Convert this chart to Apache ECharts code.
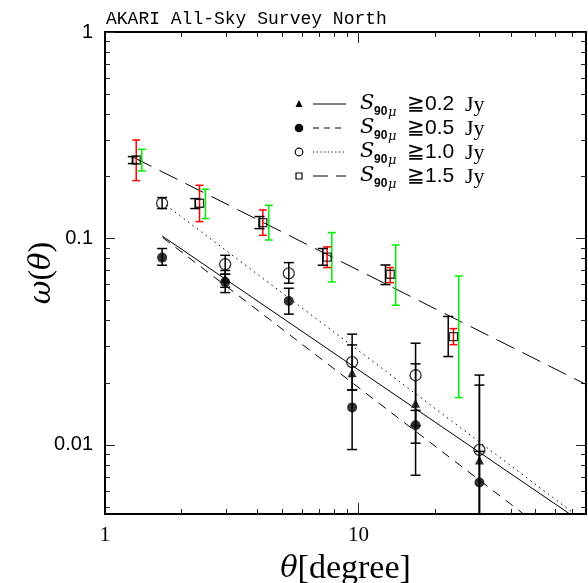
<!DOCTYPE html>
<html><head><meta charset="utf-8">
<script src="https://cdn.jsdelivr.net/npm/echarts@6/dist/echarts.min.js"></script>
<style>html,body{margin:0;padding:0;background:#fff}#c{width:588px;height:583px}</style>
</head><body><div id="c"></div>
<script>
// ---- data ----
const thetaBins = [1.68, 2.98, 5.31, 9.44, 16.8, 30.0];
// S >= 0.2 Jy (triangles)
const triTheta = [2.98, 9.44, 16.8, 30.0];
const triW     = [0.0639, 0.0224, 0.0159, 0.00846];
const triLo    = [0.0580, 0.0185, 0.00713, 0.0010];
const triHi    = [0.0700, 0.0305, 0.0247, 0.0195];
// S >= 0.5 Jy (filled circles)
const fillW  = [0.0808, 0.0616, 0.0498, 0.0152, 0.01246, 0.00658];
const fillLo = [0.0742, 0.0547, 0.0430, 0.0095, 0.0102, 0.0010];
const fillHi = [0.0894, 0.0671, 0.0574, 0.0185, 0.0147, 0.0093];
// S >= 1.0 Jy (open circles)
const openW  = [0.1481, 0.0750, 0.0678, 0.0252, 0.02175, 0.00946];
const openLo = [0.1396, 0.0671, 0.0607, 0.0185, 0.0124, 0.0010];
const openHi = [0.1578, 0.0829, 0.0764, 0.0344, 0.0311, 0.0218];
// S >= 1.5 Jy (open squares) with three error estimates
const sqTheta = [1.328, 2.36, 4.194, 7.52, 13.34, 23.7];
const sqW     = [0.2399, 0.1481, 0.1194, 0.0813, 0.0671, 0.0335];
const sqBlackTheta = [1.287, 2.269, 4.07, 7.23, 12.78, 22.6];
const sqBlackLo = [0.2306, 0.1396, 0.1116, 0.0742, 0.0598, 0.0268];
const sqBlackHi = [0.2492, 0.1560, 0.1277, 0.0894, 0.0744, 0.0419];
const sqRedLo = [0.1907, 0.1207, 0.1036, 0.0723, 0.0611, 0.0306];
const sqRedHi = [0.2999, 0.1810, 0.1374, 0.0910, 0.0723, 0.0366];
const sqGreenTheta = [1.397, 2.49, 4.43, 7.85, 14.03, 24.87];
const sqGreenLo = [0.2123, 0.1248, 0.0983, 0.0616, 0.0475, 0.01697];
const sqGreenHi = [0.2704, 0.1731, 0.1448, 0.1068, 0.0930, 0.0658];
// power-law fits (end points)
const fit02 = [[1.681, 0.1028], [67.5, 0.00467]];
const fit05 = [[1.69, 0.101], [44.4, 0.00467]];
const fit10 = [[1.743, 0.1448], [70.0, 0.00471]];
const fit15 = [[1.296, 0.247], [78.7, 0.01968]];
// axis ticks
const xLabels = [1, 10];
const xMinor = [2,3,4,5,6,7,8,9,20,30,40,50,60,70];
const yLabels = [0.01, 0.1, 1];
const yMinor = [0.005,0.006,0.007,0.008,0.009,0.02,0.03,0.04,0.05,0.06,0.07,0.08,0.09,0.2,0.3,0.4,0.5,0.6,0.7,0.8,0.9];
const legendLabels = ['0.2', '0.5', '1.0', '1.5'];

const X_MIN = 1, X_MAX = 79, Y_MIN = 0.00463, Y_MAX = 1;

function zip(xs, ys) { return xs.map((x, i) => [x, ys[i]]); }
function zip3(xs, a, b) { return xs.map((x, i) => [x, a[i], b[i]]); }

function errSeries(data, color, capW, lw) {
  return {
    type: 'custom', clip: true, silent: true, z: 3,
    data: data,
    encode: { x: 0, y: [1, 2] },
    renderItem: function (params, api) {
      const x = api.value(0), lo = api.value(1), hi = api.value(2);
      const a = api.coord([x, hi]), b = api.coord([x, lo]);
      const st = { stroke: color, lineWidth: lw };
      return { type: 'group', children: [
        { type: 'line', shape: { x1: a[0], y1: a[1], x2: b[0], y2: b[1] }, style: st },
        { type: 'line', shape: { x1: a[0] - capW/2, y1: a[1], x2: a[0] + capW/2, y2: a[1] }, style: st },
        { type: 'line', shape: { x1: b[0] - capW/2, y1: b[1], x2: b[0] + capW/2, y2: b[1] }, style: st }
      ]};
    }
  };
}
function lineSeries(data, type) {
  return { type: 'line', data: data, symbol: 'none', clip: true, silent: true, z: 2,
    lineStyle: { color: '#000', width: 1, type: type } };
}

const baseX = { type: 'log', logBase: 10, min: X_MIN, max: X_MAX, splitLine: { show: false } };
const baseY = { type: 'log', logBase: 10, min: Y_MIN, max: Y_MAX, splitLine: { show: false } };
const tickStyle = { color: '#222', width: 1 };

const chart = echarts.init(document.getElementById('c'), null, { renderer: 'canvas' });
chart.setOption({
  animation: false,
  backgroundColor: '#fff',
  title: { text: 'AKARI All-Sky Survey North', left: 101, top: 5,
    textStyle: { fontFamily: 'Liberation Mono', fontSize: 18, fontWeight: 'normal', color: '#000' } },
  grid: { left: 105, top: 32, width: 481, height: 482, containLabel: false, outerBoundsMode: 'none' },
  xAxis: [
    Object.assign({}, baseX, { position: 'bottom',
      axisLine: { show: true, lineStyle: { color: '#000', width: 2 } },
      axisTick: { show: true, inside: true, length: 11, customValues: [10], lineStyle: tickStyle },
      axisLabel: { show: true, customValues: xLabels, margin: 11, color: '#000',
        fontFamily: 'Liberation Serif', fontSize: 21, formatter: v => String(v) },
      name: '{i|θ}{r|[degree]}', nameLocation: 'middle', nameGap: 38,
      nameTextStyle: { rich: {
        i: { fontFamily: 'DejaVu Serif', fontStyle: 'italic', fontSize: 29, color: '#000' },
        r: { fontFamily: 'Liberation Serif', fontSize: 34, color: '#000' } } } }),
    Object.assign({}, baseX, { position: 'bottom', axisLine: { show: false },
      axisTick: { show: true, inside: true, length: 5, customValues: xMinor, lineStyle: tickStyle },
      axisLabel: { show: false } }),
    Object.assign({}, baseX, { position: 'top',
      axisLine: { show: true, lineStyle: { color: '#000', width: 2 } },
      axisTick: { show: true, inside: true, length: 11, customValues: [10], lineStyle: tickStyle },
      axisLabel: { show: false } }),
    Object.assign({}, baseX, { position: 'top', axisLine: { show: false },
      axisTick: { show: true, inside: true, length: 5, customValues: xMinor, lineStyle: tickStyle },
      axisLabel: { show: false } })
  ],
  yAxis: [
    Object.assign({}, baseY, { position: 'left',
      axisLine: { show: true, lineStyle: { color: '#000', width: 2 } },
      axisTick: { show: true, inside: true, length: 10, customValues: yLabels, lineStyle: tickStyle },
      axisLabel: { show: true, customValues: yLabels, margin: 12, color: '#000',
        fontFamily: 'Liberation Sans', fontSize: 20, formatter: v => String(v) },
      name: '{i|ω}{r|(}{i|θ}{r|)}', nameLocation: 'middle', nameGap: 47, nameRotate: 90,
      nameMoveOverlap: false,
      nameTextStyle: { rich: {
        i: { fontFamily: 'DejaVu Serif', fontStyle: 'italic', fontSize: 29, color: '#000' },
        r: { fontFamily: 'Liberation Serif', fontSize: 32, color: '#000' } } } }),
    Object.assign({}, baseY, { position: 'left', axisLine: { show: false },
      axisTick: { show: true, inside: true, length: 5, customValues: yMinor, lineStyle: tickStyle },
      axisLabel: { show: false } }),
    Object.assign({}, baseY, { position: 'right',
      axisLine: { show: true, lineStyle: { color: '#000', width: 2 } },
      axisTick: { show: true, inside: true, length: 10, customValues: yLabels, lineStyle: tickStyle },
      axisLabel: { show: false } }),
    Object.assign({}, baseY, { position: 'right', axisLine: { show: false },
      axisTick: { show: true, inside: true, length: 5, customValues: yMinor, lineStyle: tickStyle },
      axisLabel: { show: false } })
  ],
  series: [
    lineSeries(fit02, 'solid'),
    lineSeries(fit05, [9, 7]),
    lineSeries(fit10, [1.5, 4]),
    lineSeries(fit15, [20, 9]),
    errSeries(zip3(sqGreenTheta, sqGreenLo, sqGreenHi), '#00ee00', 8, 1.5),
    errSeries(zip3(sqTheta, sqRedLo, sqRedHi), '#ff0000', 8, 1.5),
    errSeries(zip3(sqBlackTheta, sqBlackLo, sqBlackHi), '#000', 10, 1.5),
    errSeries(zip3(thetaBins, fillLo, fillHi), '#000', 10, 1.5),
    errSeries(zip3(triTheta, triLo, triHi), '#000', 10, 1.5),
    errSeries(zip3(thetaBins, openLo, openHi), '#000', 10, 1.5),
    { type: 'scatter', data: zip(sqTheta, sqW), symbol: 'rect', symbolSize: 8, z: 4,
      itemStyle: { color: 'rgba(0,0,0,0)', borderColor: '#000', borderWidth: 1.3 } },
    { type: 'scatter', data: zip(thetaBins, openW), symbol: 'circle', symbolSize: 11, z: 4,
      itemStyle: { color: 'rgba(0,0,0,0)', borderColor: '#000', borderWidth: 1.3 } },
    { type: 'scatter', data: zip(thetaBins, fillW), symbol: 'circle', symbolSize: 10, z: 4,
      itemStyle: { color: '#000' } },
    { type: 'scatter', data: zip(triTheta, triW), symbol: 'triangle', symbolSize: 9, z: 5,
      itemStyle: { color: '#000' } }
  ],
  graphic: (function () {
    const rows = [104, 128, 152, 176];
    const dashes = ['solid', [6, 5], [1.2, 2.5], [15, 8]];
    const els = [];
    rows.forEach((y, i) => {
      if (i === 0) els.push({ type: 'polygon', shape: { points: [[299, y - 4], [295.5, y + 3], [302.5, y + 3]] }, style: { fill: '#000' } });
      if (i === 1) els.push({ type: 'circle', shape: { cx: 299, cy: y, r: 4.3 }, style: { fill: '#000' } });
      if (i === 2) els.push({ type: 'circle', shape: { cx: 299, cy: y, r: 3.8 }, style: { fill: 'none', stroke: '#000', lineWidth: 1.2 } });
      if (i === 3) els.push({ type: 'rect', shape: { x: 296, y: y - 3, width: 6, height: 6 }, style: { fill: 'none', stroke: '#000', lineWidth: 1.2 } });
      els.push({ type: 'line', shape: { x1: 313, y1: y, x2: 346, y2: y }, style: { stroke: '#000', lineWidth: 1, lineDash: dashes[i] === 'solid' ? null : dashes[i] } });
      els.push({ type: 'text', x: 360, y: y, style: { text: 'S', fontFamily: 'DejaVu Serif', fontStyle: 'italic', fontSize: 21, fill: '#000', verticalAlign: 'middle' } });
      els.push({ type: 'text', x: 374, y: y + 8, style: { text: '90', fontFamily: 'Liberation Sans', fontWeight: 'bold', fontSize: 12, fill: '#000', verticalAlign: 'middle' } });
      els.push({ type: 'text', x: 388, y: y + 9, style: { text: 'μ', fontFamily: 'DejaVu Serif', fontStyle: 'italic', fontSize: 13, fill: '#000', verticalAlign: 'middle' } });
      els.push({ type: 'text', x: 407, y: y, style: { text: '≧' + legendLabels[i], fontFamily: 'Liberation Sans', fontSize: 21, fill: '#000', verticalAlign: 'middle' } });
      els.push({ type: 'text', x: 465, y: y + 1, style: { text: 'Jy', fontFamily: 'Liberation Serif', fontSize: 22, fill: '#000', verticalAlign: 'middle' } });
    });
    return els;
  })()
});
</script></body></html>
